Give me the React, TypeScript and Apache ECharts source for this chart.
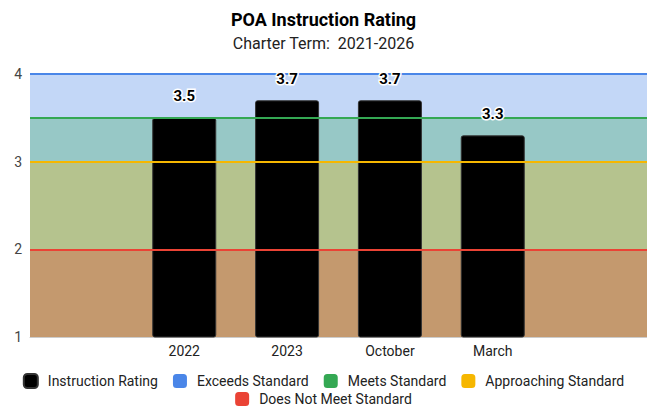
import React, { useEffect, useRef } from "react";
import * as echarts from "echarts";

const categories = ["", "2022", "2023", "October", "March", ""];
const ratings = [null, 3.5, 3.7, 3.7, 3.3, null];
const yTicks = [1, 2, 3, 4];
const bands = [
  { from: 1, to: 2, color: "#c4996e" },
  { from: 2, to: 3, color: "#b5c38e" },
  { from: 3, to: 3.5, color: "#97c8c6" },
  { from: 3.5, to: 4, color: "#c3d7f7" },
];
const thresholds = [
  { name: "Exceeds Standard", value: 4, color: "#4a86e8" },
  { name: "Meets Standard", value: 3.5, color: "#34a853" },
  { name: "Approaching Standard", value: 3, color: "#f6b700" },
  { name: "Does Not Meet Standard", value: 2, color: "#ea4335" },
];

export default function App() {
  const ref = useRef<HTMLDivElement>(null);
  useEffect(() => {
    if (!ref.current) return;
    const chart = echarts.init(ref.current, null, { renderer: "svg" });
    const font = "Roboto, 'Noto Sans', sans-serif";
    const legendBase = {
      left: "center",
      icon: "roundRect",
      padding: 0,
      itemWidth: 14,
      itemHeight: 14,
      itemGap: 15,
      textStyle: { fontSize: 14, color: "#222", fontFamily: font, padding: [0, 0, 0, 5] },
    };
    const legendNames = ["Instruction Rating", ...thresholds.map((t) => t.name)];
    chart.setOption({
      animation: false,
      textStyle: { fontFamily: font },
      title: {
        text: "POA Instruction Rating",
        subtext: "Charter Term:  2021-2026",
        left: "center",
        top: 5,
        itemGap: 7,
        textStyle: { fontSize: 18, fontWeight: "bold", color: "#000", fontFamily: font },
        subtextStyle: { fontSize: 16, color: "#222", fontFamily: font },
      },
      legend: [
        { ...legendBase, data: legendNames.slice(0, 4), top: 373 },
        { ...legendBase, data: legendNames.slice(4), top: 392 },
      ],
      grid: { left: 30, right: 0, top: 74, bottom: 69, containLabel: false },
      xAxis: {
        type: "category",
        data: categories,
        axisTick: { show: false },
        axisLine: { lineStyle: { color: "#ccc", width: 1 } },
        axisLabel: { fontSize: 14, color: "#222", margin: 7, fontFamily: font },
      },
      yAxis: {
        type: "value",
        min: yTicks[0],
        max: yTicks[yTicks.length - 1],
        interval: 1,
        splitLine: { show: false },
        axisLine: { show: false },
        axisTick: { show: false },
        axisLabel: { fontSize: 14, color: "#444", margin: 8, fontFamily: font },
      },
      series: [
        {
          name: "bands",
          type: "line",
          data: categories.map(() => null),
          z: 1,
          silent: true,
          markArea: {
            silent: true,
            data: bands.map((b) => [
              { yAxis: b.from, itemStyle: { color: b.color } },
              { yAxis: b.to },
            ]),
          },
        },
        {
          name: "Instruction Rating",
          type: "bar",
          data: ratings,
          barWidth: 64,
          z: 2,
          itemStyle: { color: "#000", borderColor: "#333", borderWidth: 1, borderRadius: 2 },
        },
        ...thresholds.map((t) => ({
          name: t.name,
          type: "line",
          data: categories.map(() => null),
          color: t.color,
          itemStyle: { color: t.color },
          z: 5,
          markLine: {
            silent: true,
            symbol: "none",
            label: { show: false },
            lineStyle: { color: t.color, width: 2, type: "solid" },
            data: [{ yAxis: t.value }],
          },
        })),
        {
          name: "labels",
          type: "scatter",
          data: ratings,
          symbolSize: 0,
          z: 10,
          silent: true,
          itemStyle: { opacity: 1, color: "#000" },
          label: {
            show: true,
            position: "top",
            distance: 14,
            fontSize: 15,
            fontWeight: "bold",
            color: "#000",
            opacity: 1,
            textBorderColor: "#fff",
            textBorderWidth: 3,
            fontFamily: font,
          },
        },
      ],
    });
    return () => chart.dispose();
  }, []);
  return <div ref={ref} style={{ width: 647, height: 406, position: "absolute", left: 0, top: 0 }} />;
}
